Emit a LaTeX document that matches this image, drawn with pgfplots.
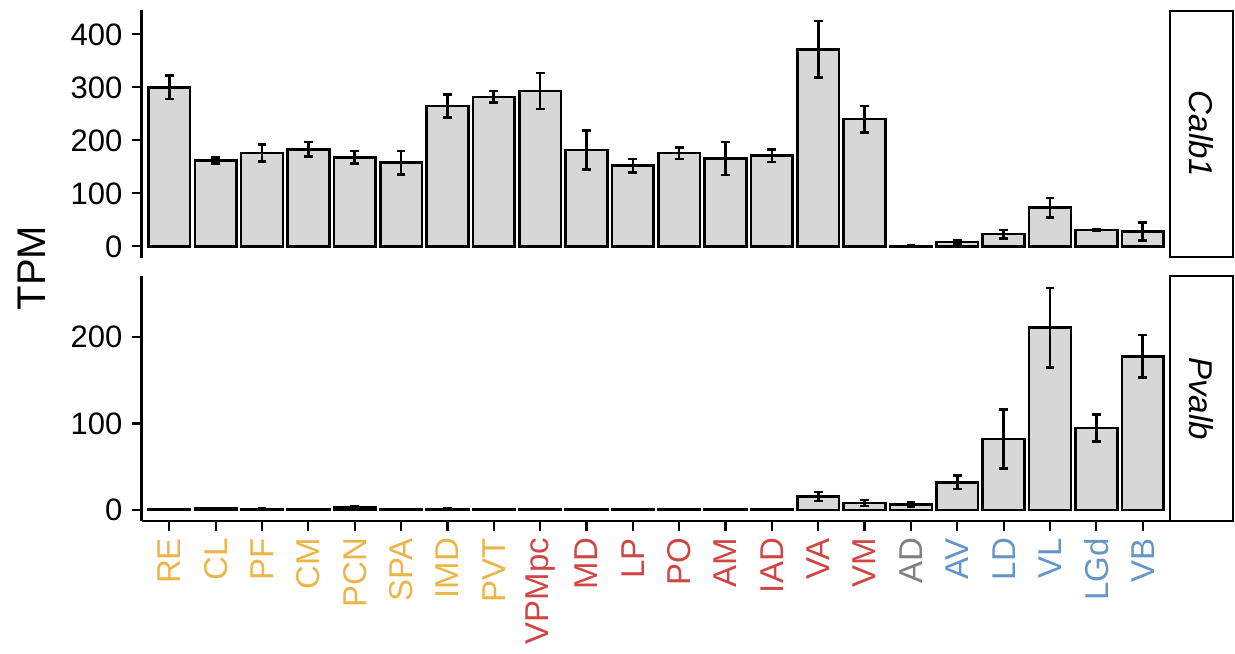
\documentclass[border=0pt]{standalone}
\usepackage{pgfplots}
\pgfplotsset{compat=1.18}
\usepackage{pgfplotstable}
\usepackage{fontspec}
\setmainfont{Liberation Sans}
\definecolor{cO}{RGB}{236,181,72}
\definecolor{cR}{RGB}{208,70,68}
\definecolor{cG}{RGB}{128,128,128}
\definecolor{cB}{RGB}{102,150,197}
\definecolor{barfill}{RGB}{215,215,215}
\newcommand{\fs}{\fontsize{16.5}{19.8}\selectfont}
\newcommand{\fy}{\fontsize{15.5}{18.6}\selectfont}
\newcommand{\fx}{\fontsize{16.5}{19.8}\selectfont}

\pgfplotstableread{
x y err
1 300 22
2 162 6
3 176 16
4 183 14
5 168 12
6 158 22
7 265 22
8 282 11
9 293 34
10 182 37
11 152 13
12 176 11
13 166 31
14 171 12
15 372 53
16 240 25
17 1 1
18 8 2.5
19 23 8
20 73 18
21 31 2
22 28 17
}\calb

\pgfplotstableread{
x y err
1 0.3 0.2
2 1.5 0.8
3 1 0.5
4 0.3 0.2
5 3 1.5
6 0.3 0.2
7 1 0.5
8 0.3 0.2
9 0.3 0.2
10 0.3 0.2
11 0.5 0.3
12 0.3 0.2
13 0.3 0.2
14 0.2 0.1
15 15.5 5
16 8 3.5
17 6 2.5
18 32 8
19 82 34
20 211 46
21 95 15.5
22 178 24.5
}\pvalb

\pgfplotsset{
  panel/.style={
    scale only axis,
    width=514.5pt,
    xmin=0.4, xmax=22.6,
    axis line style={line width=1.2pt, black},
    tick style={line width=1.1pt, black},
    tick align=outside,
    major tick length=5pt,
    yticklabel style={font=\fy, xshift=-1pt},
    xticklabel style={font=\fx},
    /pgf/number format/assume math mode=true,
    ybar, bar width=0.9,
    clip=false,
  },
  barplot/.style={
    draw=black, line width=1.3pt, fill=barfill,
    error bars/.cd, y dir=both, y explicit,
    error bar style={line width=1.3pt, black},
    error mark options={rotate=90, line width=1.3pt, mark size=2.2pt, black},
  },
}

\begin{document}
\begin{tikzpicture}
\path[use as bounding box] (0,0) rectangle (617.5pt,-326.5pt);

% top panel
\begin{axis}[panel,
  at={(70.75pt,-129pt)}, anchor=south west,
  height=124pt,
  ymin=-22, ymax=446,
  axis x line=none, axis y line*=left,
  ytick={0,100,200,300,400},
  xtick=\empty,
]
\addplot[barplot] table[x=x, y=y, y error=err] {\calb};
\end{axis}

% bottom panel
\begin{axis}[panel,
  at={(70.75pt,-260.5pt)}, anchor=south west,
  height=122.5pt,
  ymin=-12.9, ymax=270.9,
  axis x line*=bottom, axis y line*=left,
  ytick={0,100,200},
  xtick={1,...,22},
  xticklabels={\textcolor{cO}{RE},\textcolor{cO}{CL},\textcolor{cO}{PF},\textcolor{cO}{CM},\textcolor{cO}{PCN},\textcolor{cO}{SPA},\textcolor{cO}{IMD},\textcolor{cO}{PVT},\textcolor{cR}{VPMpc},\textcolor{cR}{MD},\textcolor{cR}{LP},\textcolor{cR}{PO},\textcolor{cR}{AM},\textcolor{cR}{IAD},\textcolor{cR}{VA},\textcolor{cR}{VM},\textcolor{cG}{AD},\textcolor{cB}{AV},\textcolor{cB}{LD},\textcolor{cB}{VL},\textcolor{cB}{LGd},\textcolor{cB}{VB}},
  xticklabel style={rotate=90, anchor=east},
]
\addplot[barplot] table[x=x, y=y, y error=err] {\pvalb};
\end{axis}

% facet strips
\draw[line width=1.1pt, fill=white] (585pt,-5.5pt) rectangle (616.5pt,-128.5pt);
\node[rotate=-90, font=\fs\itshape] at (600.75pt,-67pt) {Calb1};
\draw[line width=1.1pt, fill=white] (585pt,-138pt) rectangle (616.5pt,-260.5pt);
\node[rotate=-90, font=\fs\itshape] at (600.75pt,-199.3pt) {Pvalb};

% y label
\node[rotate=90, font=\fontsize{20}{24}\selectfont] at (15.75pt,-134pt) {TPM};
\end{tikzpicture}
\end{document}
